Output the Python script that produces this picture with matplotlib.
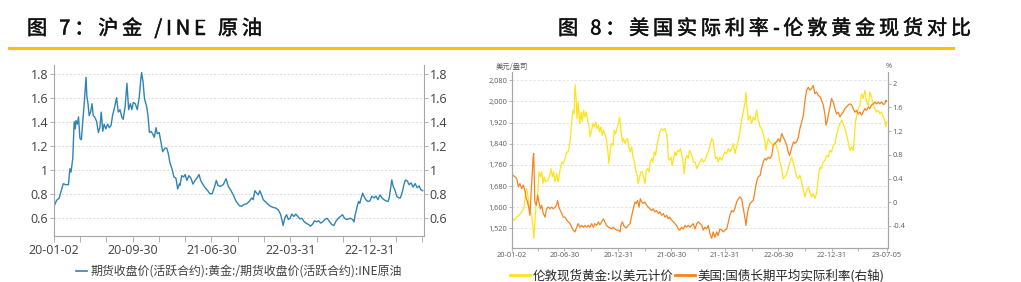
import numpy as np
import matplotlib
matplotlib.use('Agg')
import matplotlib.pyplot as plt
import matplotlib.dates as mdates
import matplotlib.patheffects as pe
from matplotlib.lines import Line2D
from matplotlib.ticker import FuncFormatter

plt.rcParams['font.family'] = ['Open Sans', 'Noto Sans CJK SC', 'DejaVu Sans']
plt.rcParams['axes.unicode_minus'] = False

# ---------------- data (days counted from 2020-01-02) ----------------
start_date = '2020-01-02'

ratio_days = [0, 8, 17, 31, 40, 49, 54, 58, 64, 69, 73, 75, 80, 84, 89, 94, 98, 105, 110, 113,
              117, 121, 126, 131, 135, 140, 147, 153, 158, 163, 168, 173, 179, 185, 191, 197, 202, 210, 216, 222,
              228, 234, 239, 246, 252, 258, 264, 269, 274, 281, 288, 295, 300, 303, 308, 313, 320, 325, 330, 335,
              341, 347, 353, 357, 364, 370, 376, 384, 390, 395, 401, 408, 415, 422, 428, 434,
              436, 442, 449, 454, 460, 467, 474, 481, 488, 495, 502, 508, 515, 523, 531, 539, 548, 555, 562, 568,
              575, 586, 596, 604, 612, 621, 630, 642, 650, 658, 667, 676, 685, 690, 696, 702, 708, 713, 719, 725,
              734, 742, 750, 760, 769, 777, 785, 790, 794, 800, 806, 812, 818, 824, 831, 838, 845, 852, 859, 866,
              873, 881, 889, 896, 903, 910, 917, 924,
              931, 939, 947, 954, 962, 970, 977, 985, 993, 1000, 1007, 1014, 1021, 1028, 1035, 1040, 1044, 1051,
              1056, 1060, 1065, 1070, 1074, 1081, 1088, 1095, 1102, 1109, 1116, 1123, 1130, 1137, 1144, 1151, 1158,
              1162, 1167, 1171, 1176, 1182, 1188, 1195, 1201, 1208, 1213, 1218, 1225, 1231, 1238, 1245, 1252, 1259,
              1266, 1271, 1278]
ratio_vals = [0.70, 0.745, 0.764, 0.883, 0.875, 0.875, 1.008, 0.98, 1.092, 1.40, 1.34, 1.41, 1.38, 1.44, 1.26, 1.25, 1.38, 1.59, 1.77, 1.61,
              1.55, 1.45, 1.48, 1.55, 1.45, 1.44, 1.40, 1.31, 1.35, 1.48, 1.32, 1.38, 1.34, 1.38, 1.35, 1.37, 1.45, 1.53, 1.60, 1.48,
              1.50, 1.44, 1.42, 1.53, 1.72, 1.50, 1.55, 1.50, 1.56, 1.55, 1.50, 1.61, 1.75, 1.81, 1.73, 1.59, 1.53, 1.45, 1.31, 1.32,
              1.30, 1.27, 1.35, 1.30, 1.31, 1.23, 1.15, 1.18, 1.18, 1.14, 1.06, 1.01, 0.94, 0.93, 0.84, 0.88,
              0.87, 0.95, 0.94, 0.96, 0.91, 0.95, 0.93, 0.88, 0.91, 0.93, 0.96, 0.91, 0.88, 0.85, 0.83, 0.80, 0.80, 0.85, 0.91, 0.87,
              0.86, 0.875, 0.925, 0.86, 0.83, 0.79, 0.74, 0.70, 0.695, 0.71, 0.715, 0.735, 0.765, 0.75, 0.825, 0.805, 0.79, 0.825, 0.79, 0.75,
              0.73, 0.71, 0.695, 0.685, 0.68, 0.665, 0.63, 0.58, 0.535, 0.60, 0.625, 0.585, 0.595, 0.63, 0.61, 0.63, 0.61, 0.59, 0.595, 0.57,
              0.555, 0.545, 0.53, 0.545, 0.575, 0.565, 0.575, 0.555,
              0.565, 0.585, 0.595, 0.57, 0.545, 0.535, 0.57, 0.595, 0.61, 0.625, 0.595, 0.585, 0.59, 0.595, 0.585, 0.565, 0.625, 0.695,
              0.735, 0.72, 0.765, 0.805, 0.78, 0.75, 0.735, 0.74, 0.78, 0.765, 0.78, 0.75, 0.79, 0.765, 0.75, 0.74, 0.735,
              0.765, 0.845, 0.915, 0.86, 0.83, 0.78, 0.765, 0.765, 0.82, 0.875, 0.915, 0.905, 0.875, 0.89, 0.855, 0.885, 0.85,
              0.865, 0.835, 0.825]

gold_days = [0, 9, 17, 25, 34, 41, 45, 50, 54, 59, 64, 68, 73, 76, 79, 84, 89, 93, 98, 102,
             107, 111, 116, 123, 130, 134, 139, 143, 148, 153, 159, 165, 171, 176, 182, 188, 193, 199, 205, 209,
             213, 216, 220, 223, 227, 232, 237, 241, 246, 250, 255, 259, 264, 268, 273, 277, 282, 287, 291, 296,
             300, 305, 309, 314, 318, 323, 328, 332, 337, 341, 346, 350, 355, 359, 364, 369, 373, 378, 382, 387,
             391, 396, 400, 405, 410, 414, 419, 423, 428, 432, 437, 441, 446, 450, 455, 460, 464, 469, 473, 478,
             482, 487, 491, 496, 501, 506, 512, 518, 523, 529, 532, 535, 539, 544, 548, 553, 557, 562, 567, 571,
             576, 580, 585, 589, 594, 598, 603, 607, 612, 617, 621,
             626, 632, 637, 643, 649, 654, 660, 666, 671, 677, 683, 688, 692, 696, 701, 705, 711, 717, 723, 728,
             734, 740, 745, 751, 757, 762, 768, 774, 779, 785, 791, 797, 800, 803, 808, 814, 819, 825, 831, 836,
             842, 848, 853, 859, 865, 868, 872, 876, 882, 888, 893, 899, 905, 910, 916, 922, 927, 933, 939, 944,
             950, 956, 961, 967, 973, 979, 984, 990, 996, 1001, 1007, 1013, 1018, 1024, 1030, 1035, 1041, 1045, 1049, 1054,
             1058, 1064, 1070, 1075, 1081, 1087, 1092, 1098, 1104, 1109, 1115, 1121, 1127, 1132, 1138, 1144, 1149, 1155, 1161, 1166,
             1170, 1174, 1179, 1183, 1189, 1195, 1200, 1206, 1212, 1218, 1223, 1229, 1235, 1240, 1246, 1252, 1257, 1263, 1269, 1274,
             1278, 1280]
gold_price = [1560, 1551, 1563, 1570, 1582, 1595, 1626, 1671, 1652, 1608, 1582, 1570, 1519, 1482, 1545, 1620, 1645, 1734, 1715, 1734,
              1690, 1715, 1696, 1702, 1721, 1746, 1715, 1734, 1696, 1727, 1696, 1740, 1771, 1765, 1784, 1809, 1809, 1847, 1923, 1967,
              1954, 2064, 2011, 1935, 1998, 1916, 1960, 1923, 1967, 1941, 1960, 1929, 1904, 1866, 1891, 1916, 1904, 1923, 1897, 1910,
              1885, 1904, 1872, 1891, 1878, 1860, 1815, 1765, 1822, 1841, 1834, 1891, 1878, 1897, 1916, 1941, 1891, 1847, 1860, 1841,
              1853, 1860, 1828, 1809, 1828, 1790, 1771, 1740, 1721, 1690, 1715, 1734, 1734, 1715, 1690, 1740, 1746, 1734, 1771, 1784,
              1771, 1809, 1796, 1834, 1860, 1885, 1897, 1891, 1897, 1878, 1847, 1784, 1778, 1790, 1758, 1784, 1809, 1796, 1815, 1809,
              1822, 1803, 1771, 1727, 1784, 1796, 1784, 1815, 1803, 1790, 1771,
              1771, 1746, 1758, 1771, 1784, 1771, 1778, 1796, 1809, 1834, 1860, 1853, 1815, 1784, 1790, 1771, 1790, 1778, 1796, 1809,
              1803, 1822, 1809, 1822, 1841, 1803, 1828, 1853, 1885, 1929, 1960, 1998, 2036, 1985, 1929, 1947, 1916, 1941, 1929, 1967,
              1929, 1904, 1897, 1878, 1847, 1815, 1841, 1860, 1847, 1841, 1834, 1847, 1828, 1809, 1771, 1746, 1708, 1715, 1727, 1746,
              1771, 1790, 1771, 1746, 1715, 1708, 1721, 1696, 1664, 1639, 1664, 1677, 1658, 1639, 1652, 1633, 1652, 1690, 1734, 1752,
              1746, 1771, 1778, 1796, 1790, 1815, 1809, 1834, 1841, 1872, 1897, 1916, 1929, 1916, 1897, 1872, 1847, 1815, 1828, 1815,
              1860, 1923, 1954, 1973, 1985, 2029, 2011, 2042, 1998, 1985, 2036, 2017, 1985, 1973, 1960, 1967, 1954, 1960, 1941, 1929,
              1904, 1923]

rate_days = [0, 5, 11, 17, 23, 28, 34, 40, 45, 50, 54, 59, 62, 66, 69, 73, 75, 77, 79, 84,
             89, 93, 98, 102, 108, 114, 119, 125, 131, 136, 142, 148, 153, 157, 161, 166, 171, 176, 182, 188,
             193, 199, 205, 210, 216, 222, 227, 233, 239, 245, 250, 256, 262, 267, 273, 279, 284, 290, 296, 301,
             307, 313, 318, 324, 330, 335, 341, 347, 353, 358, 364, 370, 373, 378, 382, 387, 392, 398, 404, 409,
             415, 421, 425, 430, 435, 439, 444, 449, 455, 461, 466, 472, 478, 483, 489, 495, 501, 506, 512, 518,
             523, 529, 535, 540, 546, 552, 557, 563, 569, 574, 580, 586, 592, 597, 603, 609, 614, 620,
             626, 632, 637, 643, 649, 654, 660, 666, 671, 677, 683, 688, 694, 700, 705, 711, 717, 723, 728, 734,
             740, 745, 751, 757, 762, 768, 774, 779, 785, 791, 797, 800, 803, 808, 814, 819, 825, 831, 836, 842,
             848, 853, 859, 865, 870, 876, 882, 888, 893, 899, 905, 910, 916, 922, 927, 933, 939, 944, 949, 954,
             958, 963, 967, 973, 979, 984, 990, 996, 1001, 1007, 1013, 1018, 1024, 1030, 1035, 1041, 1047, 1053, 1058, 1064,
             1070, 1073, 1078, 1081, 1087, 1092, 1098, 1104, 1109, 1115, 1121, 1127, 1132, 1138, 1144, 1149, 1155, 1161, 1166, 1172,
             1178, 1183, 1189, 1195, 1200, 1206, 1212, 1218, 1223, 1229, 1235, 1240, 1246, 1252, 1257, 1263, 1269, 1274, 1278, 1280]
rate_vals = [0.43, 0.455, 0.43, 0.40, 0.26, 0.315, 0.23, 0.29, 0.20, 0.06, 0.005, -0.11, -0.22, 0.12, 0.40, 0.74, 0.82, 0.40, 0.005, -0.05,
             0.12, 0.005, -0.11, -0.05, -0.19, -0.25, -0.11, -0.08, -0.11, -0.08, -0.11, -0.08, -0.05, 0.03, -0.08, -0.14, -0.19, -0.25, -0.25, -0.30,
             -0.33, -0.36, -0.42, -0.47, -0.50, -0.42, -0.36, -0.42, -0.39, -0.42, -0.39, -0.42, -0.39, -0.42, -0.36, -0.42, -0.36, -0.39, -0.33, -0.38,
             -0.33, -0.28, -0.33, -0.39, -0.42, -0.43, -0.45, -0.42, -0.45, -0.47, -0.47, -0.50, -0.39, -0.33, -0.39, -0.42, -0.43, -0.39, -0.36, -0.25,
             -0.11, 0.005, -0.02, 0.03, -0.08, 0.06, 0.005, -0.02, 0.005, -0.05, -0.08, -0.11, -0.14, -0.11, -0.16, -0.14, -0.19, -0.16, -0.22, -0.19,
             -0.25, -0.22, -0.28, -0.25, -0.30, -0.33, -0.36, -0.39, -0.45, -0.47, -0.42, -0.45, -0.39, -0.42, -0.39, -0.42, -0.39, -0.36,
             -0.45, -0.36, -0.33, -0.36, -0.39, -0.47, -0.42, -0.45, -0.39, -0.53, -0.61, -0.50, -0.59, -0.50, -0.56, -0.45, -0.47, -0.50, -0.47, -0.45,
             -0.33, -0.22, -0.14, -0.16, -0.11, 0.005, 0.06, 0.09, 0.06, -0.11, -0.28, -0.39, -0.25, -0.11, -0.02, 0.005, 0.03, 0.20, 0.34, 0.43,
             0.45, 0.57, 0.68, 0.74, 0.71, 0.76, 0.74, 0.79, 0.96, 0.99, 1.02, 1.07, 1.02, 1.16, 1.10, 1.04, 0.96, 0.85, 0.79, 0.88,
             0.96, 1.02, 0.99, 1.02, 1.10, 1.24, 1.35, 1.47, 1.69, 1.89, 1.94, 1.89, 1.92, 1.97, 1.83, 1.86, 1.80, 1.78, 1.72, 1.64,
             1.47, 1.30, 1.38, 1.47, 1.61, 1.75, 1.69, 1.58, 1.49, 1.52, 1.44, 1.49, 1.52, 1.58, 1.61, 1.64, 1.66, 1.64, 1.58, 1.52,
             1.55, 1.49, 1.52, 1.47, 1.52, 1.58, 1.55, 1.61, 1.58, 1.64, 1.66, 1.69, 1.66, 1.69, 1.66, 1.69, 1.65, 1.66, 1.72, 1.70]

left_xticks = ['2020-01-02', '2020-03-31', '2020-06-30', '2020-09-30', '2020-12-31', '2021-03-31', '2021-06-30',
               '2021-09-30', '2021-12-31', '2022-03-31', '2022-06-30', '2022-09-30', '2022-12-31', '2023-03-31', '2023-06-30']
left_xlabels = ['20-01-02', '', '', '20-09-30', '', '', '21-06-30', '', '', '22-03-31', '', '', '22-12-31', '', '']
right_xticks = ['2020-01-02', '2020-03-31', '2020-06-30', '2020-09-30', '2020-12-31', '2021-03-31', '2021-06-30',
                '2021-09-30', '2021-12-31', '2022-03-31', '2022-06-30', '2022-09-30', '2022-12-31', '2023-03-31', '2023-07-05']
right_xlabels = ['20-01-02', '', '20-06-30', '', '20-12-31', '', '21-06-30', '', '21-12-31', '', '22-06-30', '',
                 '22-12-31', '', '23-07-05']
ratio_yticks = [0.6, 0.8, 1.0, 1.2, 1.4, 1.6, 1.8]
gold_yticks = [1520, 1600, 1680, 1760, 1840, 1920, 2000, 2080]
rate_yticks = [-0.4, 0, 0.4, 0.8, 1.2, 1.6, 2]

title_left = '图 7：沪金 /INE 原油'
title_right = '图 8：美国实际利率-伦敦黄金现货对比'
ratio_label = '期货收盘价(活跃合约):黄金:/期货收盘价(活跃合约):INE原油'
gold_label = '伦敦现货黄金:以美元计价'
rate_label = '美国:国债长期平均实际利率(右轴)'

# ---------------- figure ----------------
W, H = 1021, 282
fig = plt.figure(figsize=(W / 100, H / 100), dpi=100)
start = np.datetime64(start_date)


def to_dates(days):
    return start + np.array(days, dtype='timedelta64[D]')


def box(x0, y0, x1, y1):
    return [x0 / W, 1 - y1 / H, (x1 - x0) / W, (y1 - y0) / H]


def num_fmt(v, pos):
    return f'{v:g}'


BLUE = '#2f84b4'
YELLOW = '#ffe31a'
ORANGE = '#f5841f'
SPINE = '#a6a6a6'

# left chart
ax1 = fig.add_axes(box(54.3, 65, 423.5, 236))
ax1.plot(to_dates(ratio_days), ratio_vals, color=BLUE, lw=1.0)
ax1.set_xlim(start, start + np.timedelta64(1281, 'D'))
ax1.set_ylim(0.4475, 1.8725)
ax1.set_yticks(ratio_yticks)
ax1.yaxis.set_major_formatter(FuncFormatter(num_fmt))
ax1.set_xticks(mdates.date2num(np.array(left_xticks, dtype='datetime64[D]')))
ax1.set_xticklabels(left_xlabels)
ax1.grid(axis='y', color='#d9d9d9', ls=(0, (2, 2)), lw=0.7)
ax1.spines['top'].set_visible(False)
for s in ['left', 'right', 'bottom']:
    ax1.spines[s].set_color(SPINE)
    ax1.spines[s].set_linewidth(0.8)
ax1.tick_params(axis='y', right=True, labelright=True, length=3, width=0.6, color=SPINE,
                labelsize=9, labelcolor='#404040', pad=1.5)
ax1.tick_params(axis='x', length=4, width=0.6, color=SPINE, labelsize=9, labelcolor='#404040', pad=2)

fig.legend(handles=[Line2D([], [], color=BLUE, lw=1.2, label=ratio_label)],
           loc='center', bbox_to_anchor=(239 / W, 1 - 271.5 / H), frameon=False,
           prop={'family': 'Noto Sans CJK SC', 'size': 8.6}, labelcolor='#404040',
           handlelength=0.9, handletextpad=0.3, borderpad=0, borderaxespad=0)

# right chart
ax2 = fig.add_axes(box(511.7, 71.7, 888.3, 248))
ax3 = ax2.twinx()
l1, = ax2.plot(to_dates(gold_days), gold_price, color=YELLOW, lw=0.9, label=gold_label)
l2, = ax3.plot(to_dates(rate_days), rate_vals, color=ORANGE, lw=0.9, label=rate_label)
ax2.set_xlim(start, start + np.timedelta64(1286, 'D'))
ax2.set_ylim(1446, 2112.5)
ax3.set_ylim(-0.771, 2.202)
ax2.set_yticks(gold_yticks)
ax2.yaxis.set_major_formatter(FuncFormatter(lambda v, p: f'{v:,.0f}'))
ax3.set_yticks(rate_yticks)
ax3.yaxis.set_major_formatter(FuncFormatter(num_fmt))
ax2.set_xticks(mdates.date2num(np.array(right_xticks, dtype='datetime64[D]')))
ax2.set_xticklabels(right_xlabels)
ax2.grid(axis='y', color='#e0e0e0', ls=(0, (3, 2)), lw=0.6)
for a in (ax2, ax3):
    a.spines['top'].set_visible(False)
    for s in ['left', 'right', 'bottom']:
        a.spines[s].set_color(SPINE)
        a.spines[s].set_linewidth(0.8)
    a.tick_params(length=2, width=0.6, color=SPINE, labelsize=5.3, labelcolor='#595959', pad=1)
fig.text(512 / W, 1 - 67 / H, '美元/盎司', ha='center', va='center', fontsize=5.3, color='#595959',
         family=['Noto Sans CJK SC'])
fig.text(889 / W, 1 - 67 / H, '%', ha='center', va='center', fontsize=5.3, color='#595959')

fig.legend(handles=[l1, l2], loc='center', bbox_to_anchor=(697.5 / W, 1 - 275.5 / H), ncol=2,
           frameon=False, prop={'family': 'Noto Sans CJK SC', 'size': 9}, labelcolor='#262626',
           handlelength=1.6, handletextpad=0.2, columnspacing=0.15, borderpad=0, borderaxespad=0)
for h in fig.legends[-1].legend_handles:
    h.set_linewidth(2.0)

# titles with wide letter spacing
renderer = fig.canvas.get_renderer()


def spaced_title(x_px, s, gap_px):
    x = x_px
    for ch in s:
        t = fig.text(x / W, 1 - 34.5 / H, ch, ha='left', va='baseline', fontsize=14.5,
                     family=['Noto Sans CJK SC'], color='#111111',
                     path_effects=[pe.withStroke(linewidth=0.35, foreground='#111111')])
        bb = t.get_window_extent(renderer)
        x = bb.x1 + gap_px


spaced_title(27, title_left, 3.8)
spaced_title(558, title_right, 3.8)
fig.add_artist(Line2D([9 / W, 953 / W], [1 - 47.5 / H] * 2, color='#ffc000', lw=2.2))

fig.savefig('out.png', dpi=100)
